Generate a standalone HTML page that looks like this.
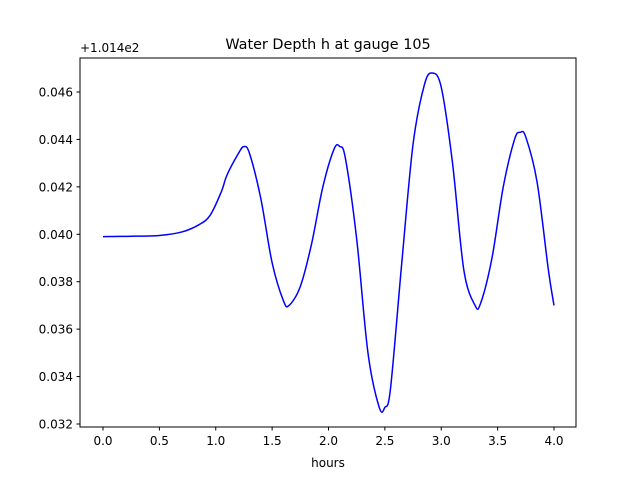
<!DOCTYPE html>
<html><head><meta charset="utf-8"><style>
body{margin:0;background:#fff;}
svg text{font-family:"DejaVu Sans","Liberation Sans",sans-serif;fill:#000;}
</style></head><body>
<svg id="c" width="640" height="480" viewBox="0 0 640 480" xmlns="http://www.w3.org/2000/svg">
<rect width="640" height="480" fill="#fff"/>
<text x="328" y="49" font-size="14.4" text-anchor="middle">Water Depth h at gauge 105</text>
<text x="80" y="52" font-size="12">+1.014e2</text>
<g id="ticks"></g>
<path id="line" fill="none" stroke="#0000ff" stroke-width="1.5"/>
<rect x="80" y="58" width="496" height="369" fill="none" stroke="#000" stroke-width="1"/>
<text x="328" y="467" font-size="12" text-anchor="middle">hours</text>
</svg>
<script>
const hours=[0,0.3,0.5,0.7,0.85,0.95,1.05,1.1,1.2,1.25,1.3,1.4,1.5,1.6,1.65,1.75,1.85,1.95,2.05,2.1,2.15,2.25,2.35,2.45,2.5,2.55,2.65,2.75,2.85,2.92,3.0,3.1,3.2,3.3,3.35,3.45,3.55,3.65,3.7,3.75,3.85,3.95,4.0];
const depth=[0.0399,0.03992,0.03995,0.0401,0.0404,0.0408,0.0418,0.0425,0.0434,0.0437,0.0434,0.0415,0.0388,0.0372,0.0370,0.0378,0.0396,0.0420,0.0436,0.0437,0.0432,0.0398,0.0350,0.0327,0.0327,0.0335,0.0388,0.0438,0.0463,0.0468,0.0462,0.0430,0.0385,0.0370,0.0371,0.0390,0.0420,0.0440,0.0443,0.0441,0.0422,0.0385,0.0370];
const xTicks=[0,0.5,1,1.5,2,2.5,3,3.5,4];
const xTickLabels=["0.0","0.5","1.0","1.5","2.0","2.5","3.0","3.5","4.0"];
const yTicks=[0.032,0.034,0.036,0.038,0.040,0.042,0.044,0.046];
const yTickLabels=["0.032","0.034","0.036","0.038","0.040","0.042","0.044","0.046"];
const xs=v=>103+v*112.75;
const ys=v=>424-(v-0.032)*23714;
const NS="http://www.w3.org/2000/svg";
const g=document.getElementById('ticks');
xTicks.forEach((t,i)=>{
 const l=document.createElementNS(NS,'line');
 l.setAttribute('x1',xs(t));l.setAttribute('x2',xs(t));l.setAttribute('y1',427);l.setAttribute('y2',430.5);l.setAttribute('stroke','#000');
 
 
 g.appendChild(l);
 const tx=document.createElementNS(NS,'text');
 tx.setAttribute('x',xs(t));tx.setAttribute('y',445);tx.setAttribute('font-size','12');tx.setAttribute('text-anchor','middle');
 tx.textContent=xTickLabels[i];
 
 
 g.appendChild(tx);
});
yTicks.forEach((t,i)=>{
 const l=document.createElementNS(NS,'line');
 l.setAttribute('x1',76.5);l.setAttribute('x2',80);l.setAttribute('y1',ys(t));l.setAttribute('y2',ys(t));l.setAttribute('stroke','#000');
 
 
 g.appendChild(l);
 const tx=document.createElementNS(NS,'text');
 tx.setAttribute('x',73);tx.setAttribute('y',ys(t)+4.5);tx.setAttribute('font-size','12');tx.setAttribute('text-anchor','end');
 tx.textContent=yTickLabels[i];
 
 
 g.appendChild(tx);
});
const P=hours.map((h,i)=>[xs(h),ys(depth[i])]);
let d='M'+P[0][0]+','+P[0][1];
for(let i=0;i<P.length-1;i++){
 const p0=P[Math.max(0,i-1)],p1=P[i],p2=P[i+1],p3=P[Math.min(P.length-1,i+2)];
 const c1=[p1[0]+(p2[0]-p0[0])/6,p1[1]+(p2[1]-p0[1])/6];
 const c2=[p2[0]-(p3[0]-p1[0])/6,p2[1]-(p3[1]-p1[1])/6];
 d+=' C'+c1[0]+','+c1[1]+' '+c2[0]+','+c2[1]+' '+p2[0]+','+p2[1];
}
document.getElementById('line').setAttribute('d',d);
</script>
</body></html>
